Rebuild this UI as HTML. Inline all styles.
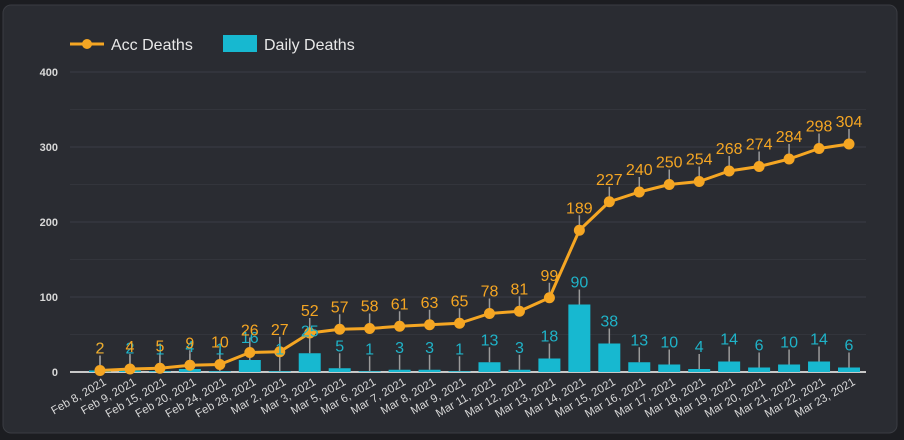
<!DOCTYPE html>
<html><head><meta charset="utf-8"><style>
html,body{margin:0;padding:0;background:#1c1d21;width:904px;height:440px;overflow:hidden}
svg{display:block;font-family:"Liberation Sans",sans-serif}
</style></head><body>
<svg id="c" width="904" height="440">
<rect x="3" y="5" width="894" height="428" rx="8" fill="#2a2c32" stroke="#3a3c42"/>
<g>
 <g>
  <line x1="70" y1="44" x2="104" y2="44" stroke="#f5a623" stroke-width="3"/>
  <circle cx="87" cy="44" r="5" fill="#f5a623"/>
  <text x="111" y="50" fill="#e8e8e8" font-size="16">Acc Deaths</text>
 </g>
 <g>
  <rect x="223" y="35" width="34" height="17" fill="#17b8d0"/>
  <text x="264" y="50" fill="#e8e8e8" font-size="16">Daily Deaths</text>
 </g>
</g>
<g id="grid"></g><g id="bars"></g><g id="lead"></g><g id="line"></g><g id="labels"></g>
</svg>
<script>
const categories=["Feb 8, 2021","Feb 9, 2021","Feb 15, 2021","Feb 20, 2021","Feb 24, 2021","Feb 28, 2021","Mar 2, 2021","Mar 3, 2021","Mar 5, 2021","Mar 6, 2021","Mar 7, 2021","Mar 8, 2021","Mar 9, 2021","Mar 11, 2021","Mar 12, 2021","Mar 13, 2021","Mar 14, 2021","Mar 15, 2021","Mar 16, 2021","Mar 17, 2021","Mar 18, 2021","Mar 19, 2021","Mar 20, 2021","Mar 21, 2021","Mar 22, 2021","Mar 23, 2021"];
const accDeaths=[2,4,5,9,10,26,27,52,57,58,61,63,65,78,81,99,189,227,240,250,254,268,274,284,298,304];
const dailyDeaths=[2,2,1,4,1,16,1,25,5,1,3,3,1,13,3,18,90,38,13,10,4,14,6,10,14,6];
const yTicks=[0,100,200,300,400];
const NS="http://www.w3.org/2000/svg";
const x=i=>100+i*(749/(categories.length-1));
const y=v=>372-v*0.75;
function mk(tag,attrs,parent,txt){const e=document.createElementNS(NS,tag);for(const k in attrs)e.setAttribute(k,attrs[k]);if(txt!==undefined)e.textContent=txt;parent.appendChild(e);return e;}
const G=document.getElementById('grid'),B=document.getElementById('bars'),D=document.getElementById('lead'),L=document.getElementById('line'),T=document.getElementById('labels');
yTicks.forEach(t=>{
 const g=mk('line',{x1:70,x2:866,y1:y(t),y2:y(t),stroke:t===0?'#c8c8c8':'#3a3d45','stroke-width':t===0?2:1},G);
 
 
 const lb=mk('text',{x:58,y:y(t)+4,'text-anchor':'end',fill:'#d8d8d8','font-size':11,'font-weight':'bold'},G,String(t));
 
 
});
[50,150,250,350].forEach(t=>{mk('line',{x1:70,x2:866,y1:y(t),y2:y(t),stroke:'#33353c','stroke-width':1},G);});
categories.forEach((c,i)=>{
 const lb=mk('text',{transform:`translate(${x(i)+7},${384}) rotate(-30)`,'text-anchor':'end',fill:'#d8d8d8','font-size':11.5},G,c);
 
 
});
dailyDeaths.forEach((v,i)=>{
 const r=mk('rect',{x:x(i)-11,y:y(v),width:22,height:372-y(v),fill:'#17b8d0'},B);
 
 
 const ty=y(v)-17;
 mk('line',{x1:x(i),x2:x(i),y1:y(v),y2:ty+2,stroke:'#9a9a9a','stroke-width':1.5},D);
 const t=mk('text',{x:x(i),y:ty,'text-anchor':'middle',fill:'#1fb3c8','font-size':16},T,String(v));
 
 
});
const pl=mk('polyline',{points:accDeaths.map((v,i)=>x(i)+','+y(v)).join(' '),fill:'none',stroke:'#f5a623','stroke-width':3,'stroke-linejoin':'round'},L);


accDeaths.forEach((v,i)=>{
 const ty=y(v)-17;
 mk('line',{x1:x(i),x2:x(i),y1:y(v),y2:ty+2,stroke:'#9a9a9a','stroke-width':1.5},D);
 const p=mk('circle',{cx:x(i),cy:y(v),r:5.5,fill:'#f5a623'},L);
 
 
 const t=mk('text',{x:x(i),y:ty,'text-anchor':'middle',fill:'#f5a623','font-size':16},T,String(v));
 
 
});
</script>
</body></html>
